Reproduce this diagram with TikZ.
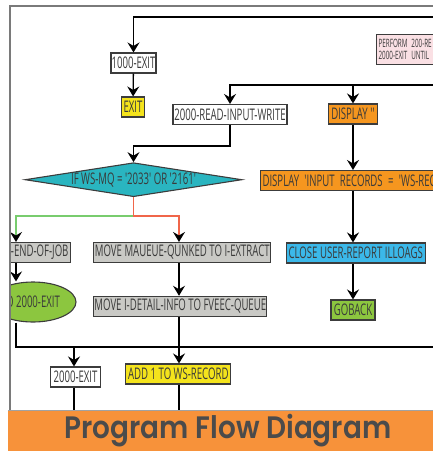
\documentclass[tikz,border=0pt]{standalone}
\usepackage{fontspec}
\setmainfont{Open Sans}
\newfontfamily\boxfont[FakeStretch=0.6]{Open Sans}
\newfontfamily\smallfont[FakeStretch=0.55]{Open Sans}
\newfontfamily\titlefont[FakeStretch=0.9, BoldFont={Poppins SemiBold}]{Poppins}
\usetikzlibrary{arrows.meta,shapes.geometric}

\definecolor{framegray}{HTML}{7A7A7A}
\definecolor{boxline}{HTML}{3C3C3C}
\definecolor{boxtext}{HTML}{3A3A3A}
\definecolor{stepgray}{HTML}{C9C9C5}
\definecolor{stepyellow}{HTML}{F4E31C}
\definecolor{steporange}{HTML}{F5961F}
\definecolor{stepcyan}{HTML}{2AB5C0}
\definecolor{stepblue}{HTML}{3BB8E9}
\definecolor{stepgreen}{HTML}{8CC63F}
\definecolor{steppink}{HTML}{FAE0E4}
\definecolor{bannerorange}{HTML}{F7923A}
\definecolor{yesgreen}{HTML}{78CC6E}
\definecolor{nored}{HTML}{F0664A}
\definecolor{titlegray}{HTML}{4B4B4B}

\newcommand\boxtxt{\boxfont\fontsize{16}{16}\selectfont}
\newcommand\smalltxt{\smallfont\fontsize{11.5}{12}\selectfont}

\begin{document}
\begin{tikzpicture}[x=1pt,y=1pt,yscale=-1,
    box/.style={draw=boxline, line width=1.1pt, inner sep=0pt, minimum height=20pt, text=boxtext, font=\boxtxt},
    arr/.style={-{Stealth[length=10pt,width=12pt,inset=3.5pt,black]}, line width=1.3pt},
    flow/.style={line width=1.3pt}]
    \useasboundingbox (0,0) rectangle (433,451);

    \begin{scope}
    \clip (10,6) rectangle (433,410);

    % columns and free ends
    \coordinate (leftx) at (16,0);
    \coordinate (col2) at (74,0);
    \coordinate (midx) at (179,0);
    \coordinate (rightx) at (353,0);
    \coordinate (topR) at (433,17);
    \coordinate (midR) at (433,85);
    \coordinate (lowR) at (433,347);
    \coordinate (split) at (133.5,216);
    \coordinate (bannerTop) at (0,410);

    % Text Node
    \node[box, fill=white, minimum width=45pt] (exitA) at (133.5,63) {1000-EXIT};
    % Text Node
    \node[box, fill=stepyellow, minimum width=23pt] (exitB) at (133,107) {EXIT};
    % Text Node
    \node[box, fill=steppink, anchor=north west, minimum height=30pt, text width=80pt, inner xsep=2pt, align=left, font=\smalltxt] (perform) at (376,34) {PERFORM 200-RE\\2000-EXIT UNTIL I};
    % Text Node
    \node[box, fill=white, minimum width=114pt] (read) at (230,114.5) {2000-READ-INPUT-WRITE};
    % Text Node
    \node[box, fill=steporange, minimum width=49pt] (display1) at (353,114) {DISPLAY\,''};
    % Decision
    \node[diamond, draw=boxline, line width=1.1pt, fill=stepcyan, aspect=6.4, inner sep=0pt, minimum width=217pt, minimum height=34pt, text=boxtext, font=\boxtxt] (cond) at (133.5,179.7) {IF WS-MQ = '2033' OR '2161'};
    % Text Node
    \node[box, fill=steporange, anchor=west, text width=200pt, inner xsep=2pt, align=left] (display2) at (260,180.5) {DISPLAY 'INPUT RECORDS = 'WS-RECOR};
    % Text Node
    \node[box, fill=stepgray, anchor=east, text width=80pt, inner xsep=2pt, align=right] (endjob) at (71,252.5) {V-END-OF-JOB};
    % Text Node
    \node[box, fill=stepgray, minimum width=177pt] (move1) at (182.3,252.5) {MOVE MAUEUE-QUNKED TO I-EXTRACT};
    % Text Node
    \node[box, fill=stepblue, minimum width=139pt] (close) at (355.7,253) {CLOSE USER-REPORT ILLOAGS};
    % Terminal
    \node[ellipse, draw=boxline, line width=1.1pt, fill=stepgreen, inner sep=0pt, minimum width=86pt, minimum height=40pt, text=boxtext, font=\boxtxt] (goto) at (33,302) {O 2000-EXIT};
    % Text Node
    \node[box, fill=stepgray, minimum width=173pt] (move2) at (180.3,306.3) {MOVE I-DETAIL-INFO TO FVEEC-QUEUE};
    % Text Node
    \node[box, fill=stepgreen, minimum width=44pt] (goback) at (353,310) {GOBACK};
    % Text Node
    \node[box, fill=white, minimum width=50pt] (exit2) at (75.5,377) {2000-EXIT};
    % Text Node
    \node[box, fill=stepyellow, minimum width=105pt] (add) at (178.3,374) {ADD 1 TO WS-RECORD};

    % top loop
    \draw[arr] (topR) -| (exitA);
    \draw[arr] (exitA) -- (exitB);
    \draw[arr] (midR) -| (read);
    \draw[arr] (display1 |- midR) -- (display1);
    \draw[arr] (read.south) -- ++(0,21) -| (cond.north);
    % branches
    \draw[flow, yesgreen, -{Stealth[length=10pt,width=12pt,inset=3.5pt,black]}] (split) -| (endjob.north -| leftx);
    \draw[flow, nored, -{Stealth[length=10pt,width=12pt,inset=3.5pt,black]}] (cond.south) -- (split) -| (move1.north -| midx);
    \draw[arr] (endjob.south -| leftx) -- (goto.north -| leftx);
    \draw[arr] (move1.south -| midx) -- (move2.north -| midx);
    \draw[flow] (goto.south -| leftx) |- (lowR);
    \draw[flow] (move2.south -| midx) -- (midx |- lowR);
    \draw[arr] (col2 |- lowR) -- (exit2.north -| col2);
    \draw[arr] (midx |- lowR) -- (add.north -| midx);
    \draw[flow] (exit2.south -| col2) -- (col2 |- bannerTop);
    \draw[flow] (add.south -| midx) -- (midx |- bannerTop);
    % right column
    \draw[arr] (display1) -- (display2.north -| rightx);
    \draw[arr] (display2.south -| rightx) -- (close.north -| rightx);
    \draw[arr] (close.south -| rightx) -- (goback);
    \end{scope}

    % frame
    \draw[framegray, line width=1.5pt] (10,410) -- (10,6) -- (433,6);
    % banner
    \fill[bannerorange] (8,410) rectangle (433,451);
    \draw[framegray!70, line width=1pt] (8,410) -- (433,410);
    \node[text=titlegray, font=\titlefont\bfseries\fontsize{31}{31}\selectfont, inner sep=0pt] (title) at (228,431) {Program Flow Diagram};
\end{tikzpicture}
\end{document}
